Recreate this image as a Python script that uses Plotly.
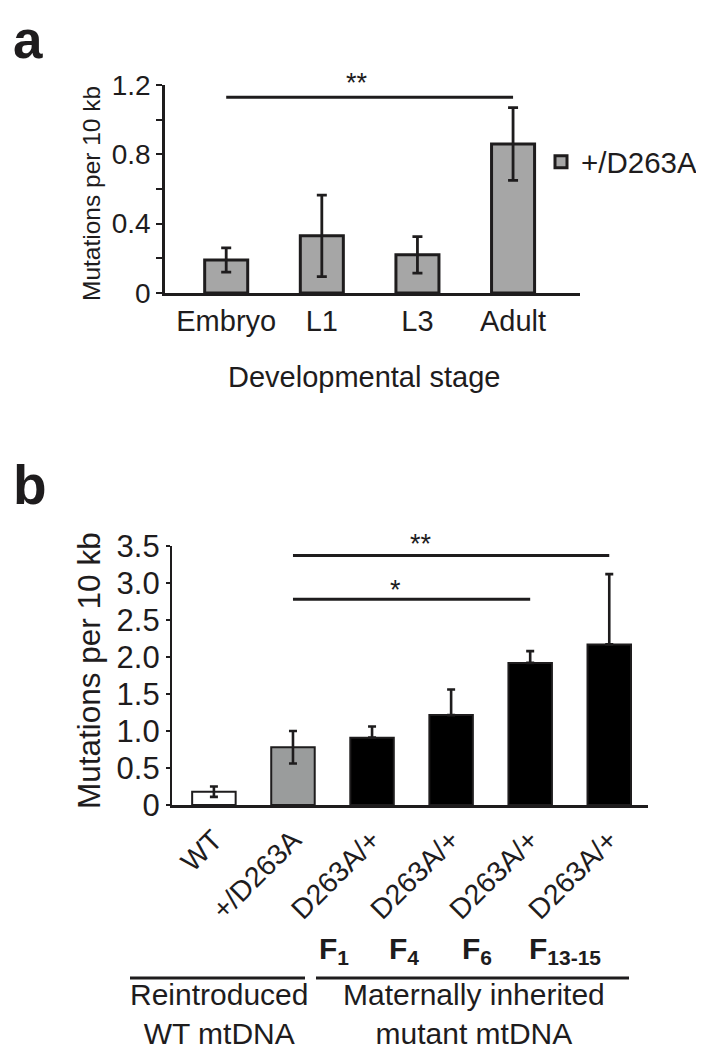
import plotly.graph_objects as go

W, H = 704, 1050

# ---------------- data ----------------
stages = ["Embryo", "L1", "L3", "Adult"]
stage_means = [0.19, 0.33, 0.22, 0.86]
stage_err = [0.07, 0.235, 0.105, 0.21]
a_ytickvals = [0, 0.4, 0.8, 1.2]
a_yticktext = ["0", "0.4", "0.8", "1.2"]
a_yminor = [0.2, 0.6, 1.0]
a_series = "+/D263A"
a_sig = [("Embryo", "Adult", "**", 1.13)]

b_labels = ["WT", "+/D263A", "D263A/+", "D263A/+", "D263A/+", "D263A/+"]
b_means = [0.18, 0.78, 0.91, 1.215, 1.92, 2.17]
b_err_plus = [0.07, 0.22, 0.15, 0.345, 0.16, 0.95]
b_err_minus = [0.07, 0.22, 0, 0, 0, 0]
b_ytickvals = [0, 0.5, 1.0, 1.5, 2.0, 2.5, 3.0, 3.5]
b_yticktext = ["0", "0.5", "1.0", "1.5", "2.0", "2.5", "3.0", "3.5"]
generations = ["1", "4", "6", "13-15"]
b_sig = [(1, 5, "**", 3.37), (1, 4, "*", 2.78)]
groups = ["Reintroduced<br>WT mtDNA", "Maternally inherited<br>mutant mtDNA"]

# ---------------- styles ----------------
FONT = "Liberation Sans, Arial, Helvetica, sans-serif"
INK = "#1e1c1d"
GREY_A = "#a6a6a6"
GREY_B = "#9a9c9c"
b_colors = ["white", GREY_B, "black", "black", "black", "black"]

DX = -3  # horizontal nudge


def X(px):
    return (px + DX) / W


def Y(py):
    return 1 - py / H


fig = go.Figure()

fig.add_trace(go.Bar(
    x=stages, y=stage_means, name=a_series,
    marker=dict(color=GREY_A, line=dict(color=INK, width=3)),
    width=0.45,
    error_y=dict(type="data", array=stage_err, color=INK, thickness=2.8, width=5),
    xaxis="x", yaxis="y", showlegend=True,
))

fig.add_trace(go.Bar(
    x=list(range(len(b_labels))), y=b_means,
    marker=dict(color=b_colors, line=dict(color=INK, width=2)),
    width=0.55,
    error_y=dict(type="data", symmetric=False, array=b_err_plus,
                 arrayminus=b_err_minus, color=INK, thickness=2.6, width=4),
    xaxis="x2", yaxis="y2", showlegend=False,
))

shapes = []
annotations = []

# significance bars
for x0, x1, txt, yv in a_sig:
    shapes.append(dict(type="line", xref="x", yref="y", x0=x0, x1=x1, y0=yv, y1=yv,
                       line=dict(color=INK, width=3)))
    annotations.append(dict(xref="x", yref="y", x=1.37, y=yv, yshift=-3, text=txt,
                            showarrow=False, xanchor="center", yanchor="bottom",
                            font=dict(size=27, color=INK, family=FONT)))
for x0, x1, txt, yv in b_sig:
    single = len(txt) == 1
    shapes.append(dict(type="line", xref="x2", yref="y2", x0=x0, x1=x1, y0=yv, y1=yv,
                       line=dict(color=INK, width=3)))
    annotations.append(dict(xref="x2", yref="y2", x=(x0 + x1) / 2 - 0.38 + (0.18 if single else 0),
                            y=yv, yshift=-8 if single else -5, text=txt,
                            showarrow=False, xanchor="center", yanchor="bottom",
                            font=dict(size=27, color=INK, family=FONT)))

# panel letters
annotations.append(dict(xref="paper", yref="paper", x=X(6), y=Y(0), text="<b>a</b>",
                        showarrow=False, xanchor="left", yanchor="top",
                        font=dict(size=53, color=INK, family=FONT)))
annotations.append(dict(xref="paper", yref="paper", x=X(6), y=Y(444), text="<b>b</b>",
                        showarrow=False, xanchor="left", yanchor="top",
                        font=dict(size=55, color=INK, family=FONT)))

# y axis titles
annotations.append(dict(xref="paper", yref="paper", x=X(86), y=Y(186), text="Mutations per 10 kb",
                        textangle=-90, showarrow=False, xanchor="center", yanchor="middle",
                        font=dict(size=24.5, color=INK, family=FONT)))
annotations.append(dict(xref="paper", yref="paper", x=X(84), y=Y(663), text="Mutations per 10 kb",
                        textangle=-90, showarrow=False, xanchor="center", yanchor="middle",
                        font=dict(size=31.5, color=INK, family=FONT)))

# x title panel a
annotations.append(dict(xref="paper", yref="paper", x=X(359), y=Y(369), text="Developmental stage",
                        showarrow=False, xanchor="center", yanchor="middle",
                        font=dict(size=29, color=INK, family=FONT)))

# generation labels
gen_px = [312, 382, 455, 522]
for g, px in zip(generations, gen_px):
    annotations.append(dict(xref="paper", yref="paper", x=X(px), y=Y(942),
                            text="<b>F<sub>%s</sub></b>" % g,
                            showarrow=False, xanchor="left", yanchor="middle",
                            font=dict(size=30, color=INK, family=FONT)))

# group lines and labels
group_px = [(125, 300), (311, 624)]
for (l, r), txt in zip(group_px, groups):
    shapes.append(dict(type="line", xref="paper", yref="paper", x0=X(l), x1=X(r),
                       y0=Y(970), y1=Y(970), line=dict(color=INK, width=3)))
    annotations.append(dict(xref="paper", yref="paper", x=X((l + r) / 2 + 1), y=Y(1006),
                            text=txt, showarrow=False, xanchor="center", yanchor="middle",
                            font=dict(size=30, color=INK, family=FONT)))

fig.update_layout(
    width=W, height=H,
    margin=dict(l=0, r=0, t=0, b=0, autoexpand=False),
    paper_bgcolor="white", plot_bgcolor="white",
    font=dict(family=FONT, color=INK),
    xaxis=dict(domain=[X(160), X(575)], anchor="y", type="category",
               range=[-0.64, 3.70], showline=True, linewidth=3, linecolor=INK,
               ticks="", tickfont=dict(size=29, color=INK), showgrid=False, zeroline=False),
    yaxis=dict(domain=[Y(285), Y(77)], anchor="x", range=[0, 1.2],
               tickvals=a_ytickvals, ticktext=a_yticktext,
               minor=dict(tickvals=a_yminor, ticks="outside", ticklen=6, tickwidth=2,
                          tickcolor=INK, showgrid=False),
               showline=True, linewidth=2.5, linecolor=INK,
               ticks="outside", ticklen=6, tickwidth=2, tickcolor=INK,
               tickfont=dict(size=28, color=INK), showgrid=False, zeroline=False),
    xaxis2=dict(domain=[X(167), X(643)], anchor="y2",
                range=[-0.53, 5.49], tickvals=list(range(len(b_labels))), ticktext=b_labels,
                tickangle=-45, showline=True, linewidth=3, linecolor=INK,
                ticks="outside", ticklen=4, tickcolor="rgba(0,0,0,0)",
                tickfont=dict(size=28.5, color=INK), showgrid=False, zeroline=False),
    yaxis2=dict(domain=[Y(797), Y(538)], anchor="x2", range=[0, 3.5],
                tickvals=b_ytickvals, ticktext=b_yticktext,
                showline=True, linewidth=2.2, linecolor=INK,
                ticks="outside", ticklen=4, tickwidth=2, tickcolor=INK,
                tickfont=dict(size=31, color=INK), showgrid=False, zeroline=False),
    legend=dict(x=X(536), y=Y(154), xanchor="left", yanchor="middle",
                font=dict(size=29.5, color=INK, family=FONT),
                bgcolor="rgba(0,0,0,0)", borderwidth=0),
    shapes=shapes,
    annotations=annotations,
)

fig.write_html("out.html")
